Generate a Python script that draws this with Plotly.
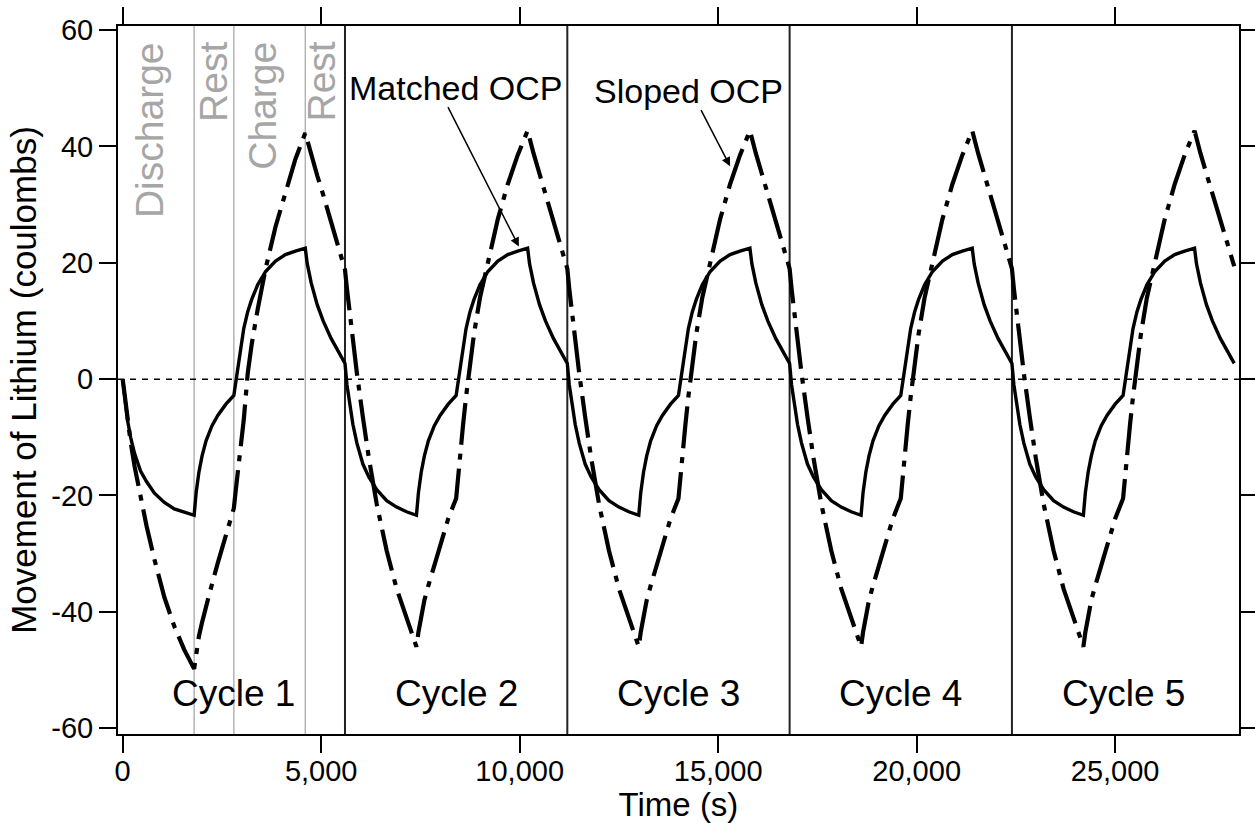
import plotly.graph_objects as go

# ---------------- data ----------------
cycle_starts = [0, 5600, 11200, 16800, 22400]
# time within a cycle (s): discharge 0-1800, rest 1800-2800, charge 2800-4600, rest 4600-5600
tau = [0, 50, 120, 200, 300, 450, 600, 800, 1050, 1300, 1550, 1800,
       1850, 1920, 2000, 2100, 2250, 2400, 2600, 2800,
       2850, 2900, 2975, 3050, 3150, 3250, 3400, 3600, 3850, 4100, 4350, 4600,
       4650, 4750, 4900, 5050, 5250, 5450, 5600]

matched_c1 = [0.0, -3.2, -7.0, -10.0, -12.8, -15.8, -17.6, -19.6, -21.2, -22.3, -22.9, -23.4,
              -19.5, -16.0, -13.2, -10.6, -8.0, -6.2, -4.3, -2.8,
              -0.5, 1.6, 5.6, 8.7, 11.6, 13.7, 16.2, 18.5, 20.3, 21.4, 22.0, 22.5,
              19.8, 16.5, 12.8, 10.0, 7.0, 4.5, 2.7]
matched_c2 = [2.7, -1.0, -4.6, -7.8, -11.0, -14.6, -16.8, -19.0, -20.9, -22.0, -22.8, -23.4,
              -19.5, -16.0, -13.2, -10.6, -8.0, -6.2, -4.3, -2.8,
              -0.5, 1.6, 5.6, 8.7, 11.6, 13.7, 16.2, 18.5, 20.3, 21.4, 22.0, 22.5,
              19.8, 16.5, 12.8, 10.0, 7.0, 4.5, 2.7]
matched_c3 = [2.7, -1.0, -4.6, -7.8, -11.0, -14.6, -16.8, -19.0, -20.9, -22.0, -22.8, -23.4,
              -19.5, -16.0, -13.2, -10.6, -8.0, -6.2, -4.3, -2.8,
              -0.5, 1.6, 5.6, 8.7, 11.6, 13.7, 16.2, 18.5, 20.3, 21.4, 22.0, 22.5,
              19.8, 16.5, 12.8, 10.0, 7.0, 4.5, 2.7]
matched_c4 = [2.7, -1.0, -4.6, -7.8, -11.0, -14.6, -16.8, -19.0, -20.9, -22.0, -22.8, -23.4,
              -19.5, -16.0, -13.2, -10.6, -8.0, -6.2, -4.3, -2.8,
              -0.5, 1.6, 5.6, 8.7, 11.6, 13.7, 16.2, 18.5, 20.3, 21.4, 22.0, 22.5,
              19.8, 16.5, 12.8, 10.0, 7.0, 4.5, 2.7]
matched_c5 = [2.7, -1.0, -4.6, -7.8, -11.0, -14.6, -16.8, -19.0, -20.9, -22.0, -22.8, -23.4,
              -19.5, -16.0, -13.2, -10.6, -8.0, -6.2, -4.3, -2.8,
              -0.5, 1.6, 5.6, 8.7, 11.6, 13.7, 16.2, 18.5, 20.3, 21.4, 22.0, 22.5,
              19.8, 16.5, 12.8, 10.0, 7.0, 4.5, 2.7]

sloped_c1 = [0.0, -3.0, -6.8, -10.8, -15.0, -20.5, -25.2, -31.0, -37.5, -42.5, -46.5, -49.8,
             -47.2, -44.2, -41.8, -39.0, -35.2, -31.5, -27.0, -22.2,
             -19.0, -16.0, -11.0, -7.0, 1.0, 6.0, 12.0, 19.0, 26.2, 32.3, 37.8, 42.3,
             41.0, 38.6, 35.0, 31.7, 27.2, 22.5, 18.8]
sloped_c2 = [18.8, 15.5, 11.0, 6.5, 1.0, -6.5, -13.5, -21.5, -29.5, -36.0, -41.2, -46.0,
             -43.5, -40.5, -38.0, -35.5, -32.0, -28.5, -24.0, -20.5,
             -16.5, -13.0, -7.8, -3.0, 3.0, 7.8, 14.0, 20.0, 27.5, 33.5, 38.5, 42.7,
             41.3, 38.8, 35.3, 31.9, 27.3, 22.6, 19.0]
sloped_c3 = [19.0, 15.5, 11.0, 6.5, 1.0, -6.5, -13.5, -21.5, -29.5, -36.0, -41.2, -46.0,
             -43.5, -40.5, -38.0, -35.5, -32.0, -28.5, -24.0, -20.5,
             -16.5, -13.0, -7.8, -3.0, 3.0, 7.8, 14.0, 20.0, 27.5, 33.5, 38.5, 42.7,
             41.3, 38.8, 35.3, 31.9, 27.3, 22.6, 19.0]
sloped_c4 = [19.0, 15.5, 11.0, 6.5, 1.0, -6.5, -13.5, -21.5, -29.5, -36.0, -41.2, -46.0,
             -43.5, -40.5, -38.0, -35.5, -32.0, -28.5, -24.0, -20.5,
             -16.5, -13.0, -7.8, -3.0, 3.0, 7.8, 14.0, 20.0, 27.5, 33.5, 38.5, 42.7,
             41.3, 38.8, 35.3, 31.9, 27.3, 22.6, 19.0]
sloped_c5 = [19.0, 15.5, 11.0, 6.5, 1.0, -6.5, -13.5, -21.5, -29.5, -36.0, -41.2, -46.0,
             -43.5, -40.5, -38.0, -35.5, -32.0, -28.5, -24.0, -20.5,
             -16.5, -13.0, -7.8, -3.0, 3.0, 7.8, 14.0, 20.0, 27.5, 33.5, 38.5, 42.7,
             41.3, 38.8, 35.3, 31.9, 27.3, 22.6, 19.4]

cycle_bounds = [5600, 11200, 16800, 22400]
phase_bounds = [1800, 2800, 4600]
phase_labels = ["Discharge", "Rest", "Charge", "Rest"]
phase_centers = [690, 2300, 3530, 5010]
cycle_labels = ["Cycle 1", "Cycle 2", "Cycle 3", "Cycle 4", "Cycle 5"]
cycle_centers = [2800, 8400, 14000, 19600, 25200]
x_ticks = [0, 5000, 10000, 15000, 20000, 25000]
x_tick_text = ["0", "5,000", "10,000", "15,000", "20,000", "25,000"]
y_ticks = [-60, -40, -20, 0, 20, 40, 60]
y_tick_text = ["-60", "-40", "-20", "0", "20", "40", "60"]

# ---------------- build ----------------
matched_cycles = [matched_c1, matched_c2, matched_c3, matched_c4, matched_c5]
sloped_cycles = [sloped_c1, sloped_c2, sloped_c3, sloped_c4, sloped_c5]
t_all, m_all, s_all = [], [], []
for start, mc, sc in zip(cycle_starts, matched_cycles, sloped_cycles):
    t_all += [start + t for t in tau]
    m_all += mc
    s_all += sc

FONT = "Liberation Sans, Arial, sans-serif"
fig = go.Figure()
fig.add_trace(go.Scatter(x=t_all, y=s_all, mode="lines", name="Sloped OCP",
                         line=dict(color="black", width=4.2, dash="42px,9px,6px,9px")))
fig.add_trace(go.Scatter(x=t_all, y=m_all, mode="lines", name="Matched OCP",
                         line=dict(color="black", width=3.4)))

shapes = []
for b in phase_bounds:
    shapes.append(dict(type="line", xref="x", yref="paper", x0=b, x1=b, y0=0, y1=1,
                       line=dict(color="#b4b4b4", width=1.5), layer="below"))
for b in cycle_bounds:
    shapes.append(dict(type="line", xref="x", yref="paper", x0=b, x1=b, y0=0, y1=1,
                       line=dict(color="#222222", width=2), layer="below"))
shapes.append(dict(type="line", xref="paper", yref="y", x0=0, x1=1, y0=0, y1=0,
                   line=dict(color="black", width=1.5, dash="6px,6px"), layer="below"))

annotations = []
for lab, c in zip(phase_labels, phase_centers):
    annotations.append(dict(x=c, y=58.3, xref="x", yref="y", text=lab, showarrow=False,
                            textangle=-90, xanchor="center", yanchor="top",
                            font=dict(family=FONT, size=39, color="#a6a6a6")))
for lab, c in zip(cycle_labels, cycle_centers):
    annotations.append(dict(x=c, y=-54, xref="x", yref="y", text=lab, showarrow=False,
                            xanchor="center", yanchor="middle",
                            font=dict(family=FONT, size=37, color="black")))
annotations.append(dict(x=8390, y=50.0, xref="x", yref="y", text="Matched OCP",
                        showarrow=False, xanchor="center", yanchor="middle",
                        font=dict(family=FONT, size=34, color="black")))
annotations.append(dict(x=14250, y=49.5, xref="x", yref="y", text="Sloped OCP",
                        showarrow=False, xanchor="center", yanchor="middle",
                        font=dict(family=FONT, size=34, color="black")))
annotations.append(dict(x=9980, y=22.8, ax=8175, ay=47.0, xref="x", yref="y",
                        axref="x", ayref="y", text="", showarrow=True,
                        arrowhead=2, arrowsize=1.2, arrowwidth=1.5, arrowcolor="black"))
annotations.append(dict(x=15300, y=36.6, ax=14550, ay=46.5, xref="x", yref="y",
                        axref="x", ayref="y", text="", showarrow=True,
                        arrowhead=2, arrowsize=1.2, arrowwidth=1.5, arrowcolor="black"))

axis_common = dict(showline=True, linecolor="black", linewidth=2, mirror="ticks",
                   ticks="outside", ticklen=17, tickwidth=1.5, tickcolor="black",
                   showgrid=False, zeroline=False, automargin=False,
                   tickfont=dict(family=FONT, size=29, color="black"))

fig.update_layout(
    width=1255, height=823,
    margin=dict(l=118, r=16, t=26, b=89),
    paper_bgcolor="white", plot_bgcolor="white",
    showlegend=False,
    shapes=shapes, annotations=annotations,
    xaxis=dict(range=[-118, 28120], tickvals=x_ticks, ticktext=x_tick_text,
               ticklabelstandoff=-7,
               title=dict(text="Time (s)", font=dict(family=FONT, size=33, color="black"),
                          standoff=6),
               **axis_common),
    yaxis=dict(range=[-61.0, 60.7], tickvals=y_ticks, ticktext=y_tick_text,
               title=dict(text="Movement of Lithium (coulombs)",
                          font=dict(family=FONT, size=35, color="black"), standoff=4),
               **axis_common),
)

fig.write_html("out.html")
